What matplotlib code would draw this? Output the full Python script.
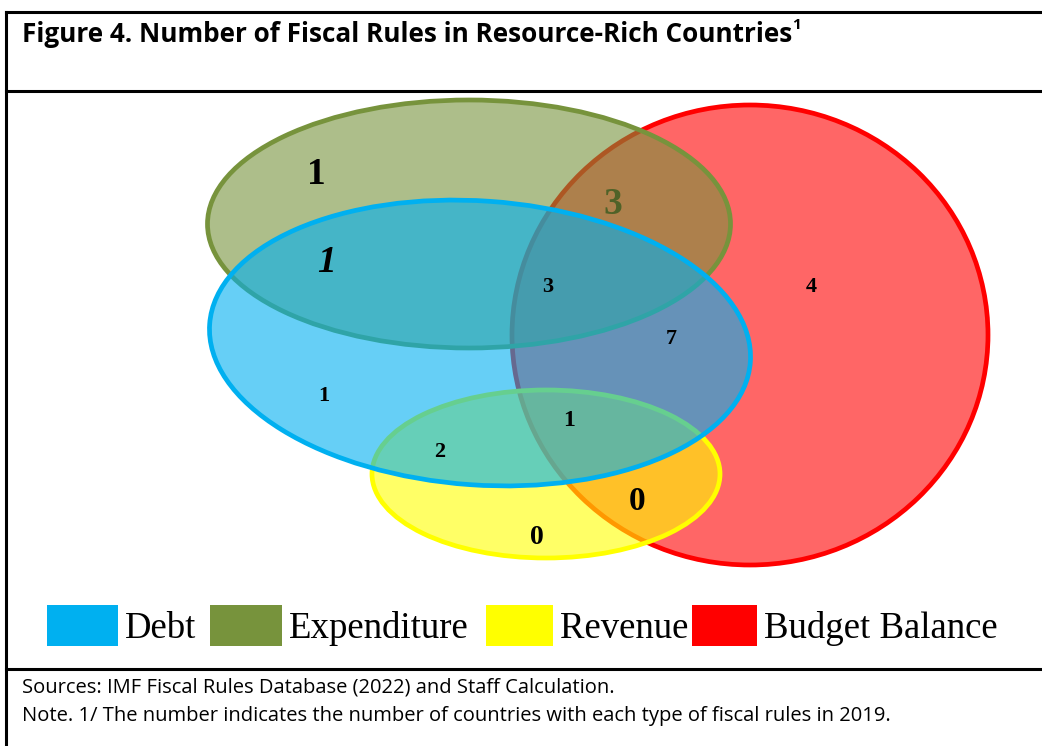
import matplotlib
matplotlib.use("Agg")
import matplotlib.pyplot as plt
from matplotlib.patches import Ellipse, Rectangle

# fiscal rule types and colours
rule_types = ["Debt", "Expenditure", "Revenue", "Budget Balance"]
rule_colors = ["#00B0F0", "#77933C", "#FFFF00", "#FF0000"]

# counts in each region of the diagram
region_counts = [1, 3, 1, 3, 4, 7, 1, 1, 2, 0, 0]

title = "Figure 4. Number of Fiscal Rules in Resource-Rich Countries"
source_note = "Sources: IMF Fiscal Rules Database (2022) and Staff Calculation."
foot_note = "Note. 1/ The number indicates the number of countries with each type of fiscal rules in 2019."

fig = plt.figure(figsize=(10.42, 7.46), dpi=100)
ax = fig.add_axes([0, 0, 1, 1])
ax.set_xlim(0, 1042)
ax.set_ylim(746, 0)
ax.axis("off")

# frame lines
ax.plot([6, 1042], [12, 12], color="black", lw=2.2)
ax.plot([6, 1042], [91, 91], color="black", lw=2.2)
ax.plot([6, 1042], [669, 669], color="black", lw=2.2)
ax.plot([6, 6], [12, 746], color="black", lw=2.2)

t = ax.text(22, 34, title, fontsize=18.8, fontweight="bold", family="Open Sans",
            va="center", ha="left")
fig.canvas.draw()
bb = t.get_window_extent()
x_end = ax.transData.inverted().transform((bb.x1, bb.y1))[0]
ax.text(x_end, 25, "1", fontsize=11, fontweight="bold", family="Open Sans",
        va="center", ha="left")

# ellipses: drawn order red, yellow, green, blue
shapes = {
    "Budget Balance": dict(xy=(750, 335), width=476, height=460, angle=0),
    "Revenue": dict(xy=(546, 474), width=348, height=168, angle=0),
    "Expenditure": dict(xy=(469, 224), width=523, height=248, angle=0),
    "Debt": dict(xy=(480, 343), width=542, height=284, angle=4),
}
for name in ["Budget Balance", "Revenue", "Expenditure", "Debt"]:
    c = rule_colors[rule_types.index(name)]
    fc = matplotlib.colors.to_rgba(c, 0.6)
    ax.add_patch(Ellipse(facecolor=fc, edgecolor=c, lw=3.4, **shapes[name]))

# number labels
label_pos = [(316, 175), (613, 205), (327, 263), (548, 287), (811, 287),
             (671, 339), (324, 396), (569, 420), (440, 452), (637, 502), (537, 537)]
label_size = [27, 27, 27, 16, 16, 16, 16, 17, 16, 24, 20]
label_color = ["black", "#4F6228"] + ["black"] * 9
label_style = ["normal", "normal", "italic"] + ["normal"] * 8
for v, (x, y), s, col, st in zip(region_counts, label_pos, label_size, label_color, label_style):
    ax.text(x, y, str(v), fontsize=s, color=col, style=st, fontweight="bold",
            family="Liberation Serif", ha="center", va="center")

# legend
legend_boxes = [(47, 118), (210, 282), (486, 553), (692, 757)]
for (x0, x1), name, c in zip(legend_boxes, rule_types, rule_colors):
    ax.add_patch(Rectangle((x0, 605), x1 - x0, 41, facecolor=c, edgecolor="none"))
    ax.text(x1 + 7, 629, name, fontsize=26.5, family="Liberation Serif",
            ha="left", va="center")

ax.text(22, 687, source_note, fontsize=14.5, family="Open Sans", va="center")
ax.text(22, 716, foot_note, fontsize=14.5, family="Open Sans", va="center")

fig.savefig("out.png", dpi=100)
